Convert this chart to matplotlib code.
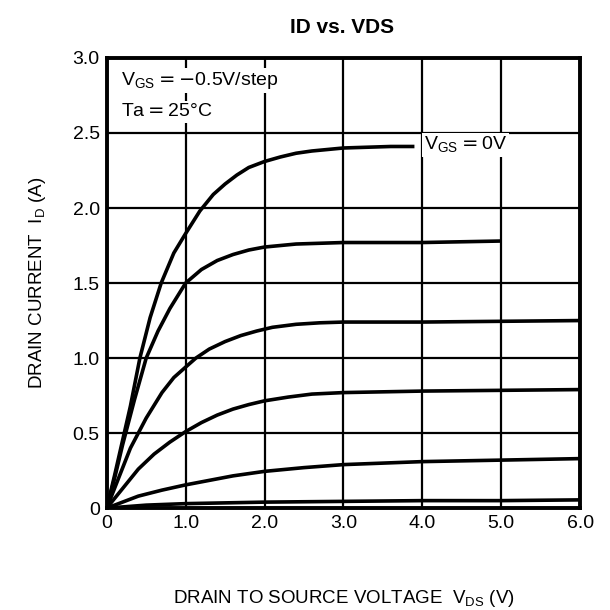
import matplotlib
matplotlib.use("Agg")
import matplotlib.pyplot as plt

# curvas ID-VDS, un paso de VGS = -0.5 V
vds_0 = [0, 0.1, 0.2, 0.3, 0.42, 0.55, 0.69, 0.85, 1.0, 1.18, 1.35, 1.5, 1.65, 1.8, 2.0,
         2.2, 2.4, 2.6, 2.8, 3.0, 3.3, 3.6, 3.9]
id_0 = [0, 0.22, 0.45, 0.68, 1.0, 1.27, 1.5, 1.7, 1.83, 1.98, 2.09, 2.16, 2.22, 2.27, 2.31,
        2.34, 2.365, 2.38, 2.39, 2.40, 2.405, 2.41, 2.41]

vds_05 = [0, 0.1, 0.2, 0.35, 0.5, 0.65, 0.8, 1.0, 1.2, 1.4, 1.6, 1.8, 2.0, 2.2, 2.4, 2.7,
          3.0, 4.0, 5.0]
id_05 = [0, 0.2, 0.42, 0.72, 1.0, 1.18, 1.33, 1.5, 1.59, 1.65, 1.69, 1.72, 1.74, 1.75, 1.76,
         1.765, 1.77, 1.77, 1.78]

vds_10 = [0, 0.15, 0.3, 0.5, 0.7, 0.85, 1.0, 1.13, 1.3, 1.5, 1.7, 1.9, 2.1, 2.4, 2.7, 3.0,
          4.0, 5.0, 6.0]
id_10 = [0, 0.2, 0.4, 0.6, 0.77, 0.87, 0.94, 1.0, 1.06, 1.11, 1.15, 1.18, 1.205, 1.225,
         1.235, 1.24, 1.24, 1.245, 1.25]

vds_15 = [0, 0.2, 0.4, 0.6, 0.8, 1.0, 1.2, 1.4, 1.6, 1.8, 2.0, 2.3, 2.6, 3.0, 4.0, 5.0, 6.0]
id_15 = [0, 0.13, 0.26, 0.36, 0.44, 0.51, 0.57, 0.62, 0.66, 0.69, 0.715, 0.74, 0.76, 0.77,
         0.78, 0.785, 0.79]

vds_20 = [0, 0.2, 0.4, 0.7, 1.0, 1.3, 1.6, 2.0, 2.5, 3.0, 3.5, 4.0, 5.0, 6.0]
id_20 = [0, 0.04, 0.08, 0.12, 0.155, 0.185, 0.215, 0.245, 0.27, 0.29, 0.30, 0.31, 0.32, 0.33]

vds_25 = [0, 0.5, 1.0, 2.0, 3.0, 4.0, 5.0, 6.0]
id_25 = [0, 0.02, 0.03, 0.04, 0.045, 0.05, 0.05, 0.055]

xticks = [0, 1, 2, 3, 4, 5, 6]
xlabels = ["0", "1.0", "2.0", "3.0", "4.0", "5.0", "6.0"]
yticks = [0, 0.5, 1.0, 1.5, 2.0, 2.5, 3.0]
ylabels = ["0", "0.5", "1.0", "1.5", "2.0", "2.5", "3.0"]

plt.rcParams['font.family'] = ['Liberation Sans', 'DejaVu Sans']

fig = plt.figure(figsize=(6.1, 6.1), dpi=100)
ax = fig.add_axes([0.175, 0.167, 0.776, 0.738])

for x, y in [(vds_0, id_0), (vds_05, id_05), (vds_10, id_10),
             (vds_15, id_15), (vds_20, id_20), (vds_25, id_25)]:
    ax.plot(x, y, color="black", lw=2.6, solid_capstyle="butt", solid_joinstyle="round")

ax.set_xlim(0, 6)
ax.set_ylim(0, 3)
ax.set_xticks(xticks)
ax.set_xticklabels(xlabels)
ax.set_yticks(yticks)
ax.set_yticklabels(ylabels)
ax.tick_params(length=0, labelsize=14, pad=5)
ax.grid(True, color="black", lw=1.6)
for s in ax.spines.values():
    s.set_linewidth(2.8)

# fondo blanco detras de los textos, como en la hoja de datos
caja = dict(facecolor="white", edgecolor="none", pad=1.5)
ax.text(0.18, 2.85, r"V$_{\mathregular{GS}}$$=$$-$0.5V/step", fontsize=14, va="center", bbox=caja)
ax.text(0.18, 2.64, r"Ta$=$25°C", fontsize=14, va="center", bbox=caja)
ax.text(4.02, 2.42, r"V$_{\mathregular{GS}}$$=$0V", fontsize=14, va="center", bbox=caja)

fig.suptitle("ID vs. VDS", x=0.56, y=0.97, fontsize=15, fontweight="bold")
ax.set_xlabel(r"DRAIN TO SOURCE VOLTAGE  V$_{\mathregular{DS}}$ (V)", fontsize=13.5, labelpad=40)
ax.set_ylabel(r"DRAIN CURRENT  I$_{\mathregular{D}}$ (A)", fontsize=13.5, labelpad=18)

fig.savefig("out.png", dpi=100)
